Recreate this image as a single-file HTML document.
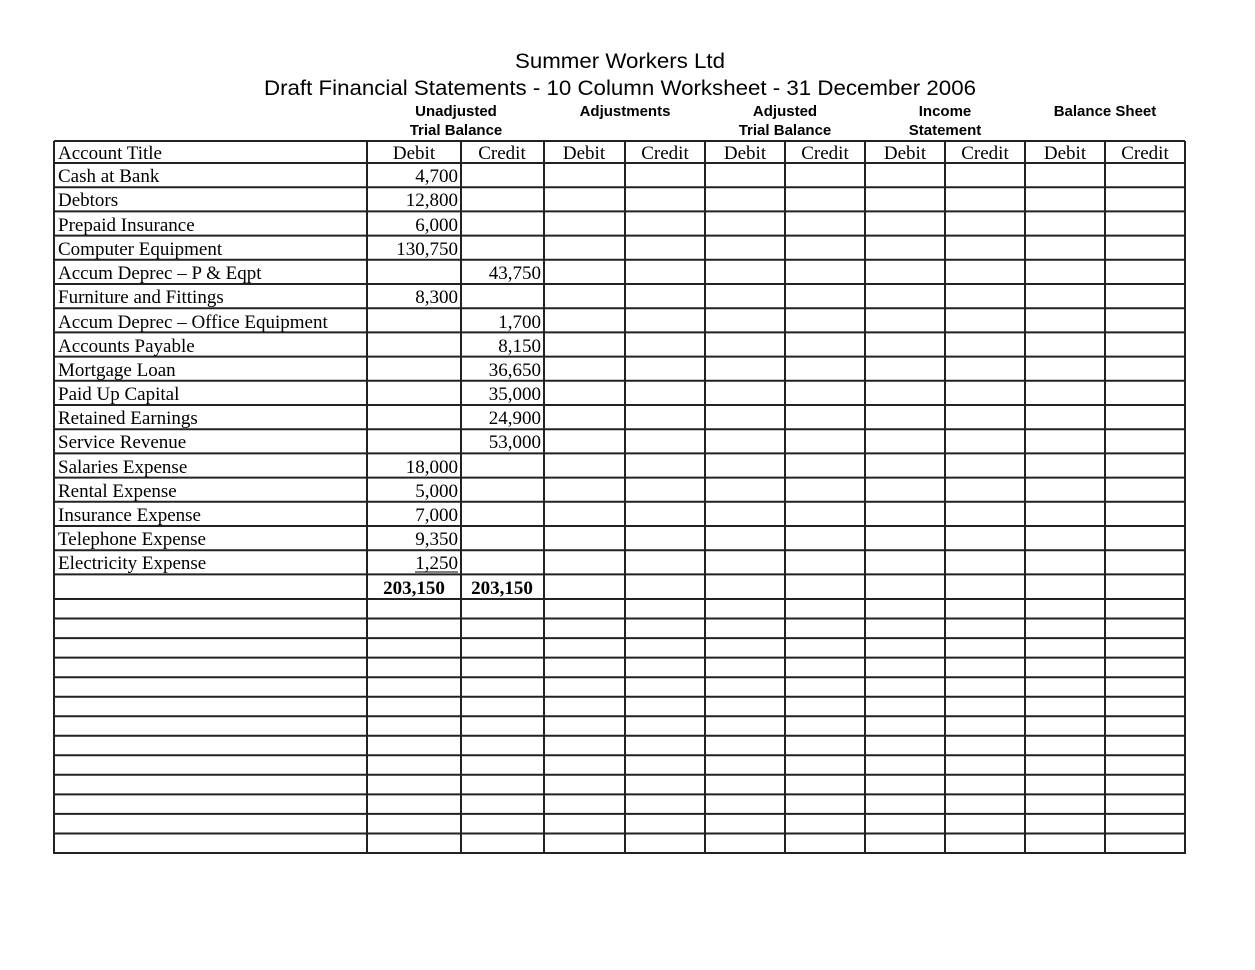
<!DOCTYPE html>
<html><head><meta charset="utf-8"><style>
html,body{margin:0;padding:0;background:#fff;}
svg{display:block;}
.t{font-family:"Liberation Serif",serif;font-size:19px;fill:#000;}
.s{font-family:"Liberation Sans",sans-serif;fill:#000;}
.h{font-family:"Liberation Sans",sans-serif;font-size:15px;font-weight:bold;fill:#000;}
</style></head><body>
<svg width="1255" height="970" viewBox="0 0 1255 970" xmlns="http://www.w3.org/2000/svg">
<rect width="1255" height="970" fill="#fff"/>
<text class="s" x="620" y="68" font-size="21" text-anchor="middle" textLength="210" lengthAdjust="spacingAndGlyphs">Summer Workers Ltd</text>
<text class="s" x="620" y="95" font-size="21" text-anchor="middle" textLength="712" lengthAdjust="spacingAndGlyphs">Draft Financial Statements - 10 Column Worksheet - 31 December 2006</text>
<g class="h" text-anchor="middle">
<text x="456" y="116">Unadjusted</text><text x="456" y="135">Trial Balance</text>
<text x="625" y="116">Adjustments</text>
<text x="785" y="116">Adjusted</text><text x="785" y="135">Trial Balance</text>
<text x="945" y="116">Income</text><text x="945" y="135">Statement</text>
<text x="1105" y="116">Balance Sheet</text>
</g>
<g stroke="#222" stroke-width="2">
<line x1="54" y1="141" x2="54" y2="854"/><line x1="367" y1="141" x2="367" y2="854"/><line x1="461" y1="141" x2="461" y2="854"/><line x1="544" y1="141" x2="544" y2="854"/><line x1="625" y1="141" x2="625" y2="854"/><line x1="705" y1="141" x2="705" y2="854"/><line x1="785" y1="141" x2="785" y2="854"/><line x1="865" y1="141" x2="865" y2="854"/><line x1="945" y1="141" x2="945" y2="854"/><line x1="1025" y1="141" x2="1025" y2="854"/><line x1="1105" y1="141" x2="1105" y2="854"/><line x1="1185" y1="141" x2="1185" y2="854"/>
<line x1="54" y1="141" x2="1185" y2="141"/><line x1="54" y1="163" x2="1185" y2="163"/><line x1="54" y1="187.2" x2="1185" y2="187.2"/><line x1="54" y1="211.4" x2="1185" y2="211.4"/><line x1="54" y1="235.6" x2="1185" y2="235.6"/><line x1="54" y1="259.8" x2="1185" y2="259.8"/><line x1="54" y1="284" x2="1185" y2="284"/><line x1="54" y1="308.2" x2="1185" y2="308.2"/><line x1="54" y1="332.4" x2="1185" y2="332.4"/><line x1="54" y1="356.6" x2="1185" y2="356.6"/><line x1="54" y1="380.8" x2="1185" y2="380.8"/><line x1="54" y1="405" x2="1185" y2="405"/><line x1="54" y1="429.2" x2="1185" y2="429.2"/><line x1="54" y1="453.4" x2="1185" y2="453.4"/><line x1="54" y1="477.6" x2="1185" y2="477.6"/><line x1="54" y1="501.8" x2="1185" y2="501.8"/><line x1="54" y1="526" x2="1185" y2="526"/><line x1="54" y1="550.2" x2="1185" y2="550.2"/><line x1="54" y1="574.4" x2="1185" y2="574.4"/><line x1="54" y1="599" x2="1185" y2="599"/><line x1="54" y1="618.5" x2="1185" y2="618.5"/><line x1="54" y1="638.1" x2="1185" y2="638.1"/><line x1="54" y1="657.6" x2="1185" y2="657.6"/><line x1="54" y1="677.2" x2="1185" y2="677.2"/><line x1="54" y1="696.7" x2="1185" y2="696.7"/><line x1="54" y1="716.2" x2="1185" y2="716.2"/><line x1="54" y1="735.8" x2="1185" y2="735.8"/><line x1="54" y1="755.3" x2="1185" y2="755.3"/><line x1="54" y1="774.8" x2="1185" y2="774.8"/><line x1="54" y1="794.4" x2="1185" y2="794.4"/><line x1="54" y1="813.9" x2="1185" y2="813.9"/><line x1="54" y1="833.5" x2="1185" y2="833.5"/><line x1="54" y1="853" x2="1185" y2="853"/>
</g>
<g class="t" text-anchor="middle">
<text x="414" y="159">Debit</text><text x="502" y="159">Credit</text>
<text x="584" y="159">Debit</text><text x="665" y="159">Credit</text>
<text x="745" y="159">Debit</text><text x="825" y="159">Credit</text>
<text x="905" y="159">Debit</text><text x="985" y="159">Credit</text>
<text x="1065" y="159">Debit</text><text x="1145" y="159">Credit</text>
</g>
<g class="t">
<text x="58" y="159">Account Title</text>
<text x="58" y="182">Cash at Bank</text>
<text x="58" y="206">Debtors</text>
<text x="58" y="231">Prepaid Insurance</text>
<text x="58" y="255">Computer Equipment</text>
<text x="58" y="279">Accum Deprec – P &amp; Eqpt</text>
<text x="58" y="303">Furniture and Fittings</text>
<text x="58" y="328">Accum Deprec – Office Equipment</text>
<text x="58" y="352">Accounts Payable</text>
<text x="58" y="376">Mortgage Loan</text>
<text x="58" y="400">Paid Up Capital</text>
<text x="58" y="424">Retained Earnings</text>
<text x="58" y="448">Service Revenue</text>
<text x="58" y="473">Salaries Expense</text>
<text x="58" y="497">Rental Expense</text>
<text x="58" y="521">Insurance Expense</text>
<text x="58" y="545">Telephone Expense</text>
<text x="58" y="569">Electricity Expense</text>
</g>
<g class="t" text-anchor="end">
<text x="458" y="182">4,700</text>
<text x="458" y="206">12,800</text>
<text x="458" y="231">6,000</text>
<text x="458" y="255">130,750</text>
<text x="541" y="279">43,750</text>
<text x="458" y="303">8,300</text>
<text x="541" y="328">1,700</text>
<text x="541" y="352">8,150</text>
<text x="541" y="376">36,650</text>
<text x="541" y="400">35,000</text>
<text x="541" y="424">24,900</text>
<text x="541" y="448">53,000</text>
<text x="458" y="473">18,000</text>
<text x="458" y="497">5,000</text>
<text x="458" y="521">7,000</text>
<text x="458" y="545">9,350</text>
<text x="458" y="569">1,250</text>
</g>
<line x1="415" y1="572" x2="458" y2="572" stroke="#000" stroke-width="1"/>
<g class="t" text-anchor="middle" font-weight="bold">
<text x="414" y="594">203,150</text><text x="502" y="594">203,150</text>
</g>
</svg>
</body></html>
